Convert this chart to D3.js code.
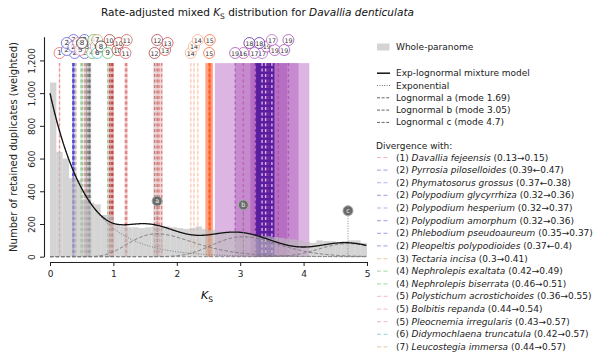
<!DOCTYPE html>
<html>
<head>
<meta charset="utf-8">
<script src="https://cdn.jsdelivr.net/npm/d3@7"></script>
<style>
  body { margin: 0; background: #fff; }
  text { font-family: "DejaVu Sans", sans-serif; }
</style>
</head>
<body>
<svg id="chart" width="602" height="361"></svg>
<script>
// ---- whole-paranome Ks histogram (bin width 0.1, from 0 to 5) ----
const binWidth = 0.1;
const histCounts = [
  1065, 640, 600, 480, 470, 350, 330, 320, 255, 255,
  200, 185, 180, 180, 175, 180, 185, 180, 185, 180,
  175, 170, 175, 185, 170, 165, 155, 150, 150, 155,
  150, 140, 130, 125, 125, 120, 115, 110, 105, 100,
  90, 85, 100, 95, 95, 90, 95, 100, 100, 85
];

// ---- exp-lognormal mixture model ----
const expAmplitude = 1000;
const expRate = 1.75;
const lognormLetters = ["a", "b", "c"];
const lognormModes = [1.69, 3.05, 4.7];
const lognormSigmas = [0.3, 0.17, 0.1];
const lognormPeaks = [140, 122, 80];
const lognormMarkerHeights = [340, 316, 281];

// ---- divergences listed in the legend ----
const speciesNames = [
  "Davallia fejeensis", "Pyrrosia piloselloides", "Phymatosorus grossus",
  "Polypodium glycyrrhiza", "Polypodium hesperium", "Polypodium amorphum",
  "Phlebodium pseudoaureum", "Pleopeltis polypodioides", "Tectaria incisa",
  "Nephrolepis exaltata", "Nephrolepis biserrata", "Polystichum acrostichoides",
  "Bolbitis repanda", "Pleocnemia irregularis", "Didymochlaena truncatula",
  "Leucostegia immersa"
];
const speciesGroups = [1, 2, 2, 2, 2, 2, 2, 2, 3, 4, 4, 5, 5, 5, 6, 7];
const ksLow = [0.13, 0.39, 0.37, 0.32, 0.32, 0.32, 0.35, 0.37, 0.3, 0.42, 0.46, 0.36, 0.44, 0.43, 0.42, 0.44];
const ksHigh = [0.15, 0.47, 0.38, 0.36, 0.37, 0.36, 0.37, 0.4, 0.41, 0.49, 0.51, 0.55, 0.54, 0.57, 0.57, 0.57];
// true when the adjusted estimate is the lower value (arrow points left)
const arrowLeft = [false, true, true, false, false, false, false, true, false, false, false, false, false, false, false, false];
const speciesSd = [0.01, 0.012, 0.01, 0.01, 0.01, 0.01, 0.01, 0.01, 0.012, 0.012, 0.012, 0.012, 0.012, 0.012, 0.01, 0.01];

// ---- further divergences (groups 8-19) ----
const otherGroups = [8, 8, 9, 10, 10, 10, 11, 11, 12, 12, 13, 13, 14, 14, 14, 15, 15,
                     17, 19, 19, 18, 16, 19, 18, 17, 17, 19, 19];
const otherKs = [0.6, 0.63, 0.91, 0.94, 0.97, 0.99, 1.19, 1.21, 1.65, 1.69, 1.72, 1.76,
                 2.22, 2.27, 2.33, 2.51, 2.52,
                 3.345, 3.42, 3.45, 3.395, 3.05, 2.92, 3.24, 3.4, 3.5, 3.6, 3.76];
const otherSd = [0.03, 0.02, 0.01, 0.02, 0.03, 0.02, 0.015, 0.015, 0.02, 0.02, 0.02, 0.02,
                 0.015, 0.015, 0.015, 0.06, 0.02,
                 0.745, 0.5, 0.29, 0.145, 0.0, 0.0, 0.0, 0.0, 0.0, 0.0, 0.0];

const groupColors = {
  1: "#e8575a", 2: "#4f4fd9", 3: "#d9a050", 4: "#5cb85c", 5: "#e87da3",
  6: "#3fb5c5", 7: "#c8955a", 8: "#222222", 9: "#55bb55", 10: "#b22222",
  11: "#d05050", 12: "#a83030", 13: "#c84040", 14: "#f4a582", 15: "#ff5a1f",
  16: "#c0409a", 17: "#b45ac0", 18: "#4b0f9a", 19: "#9a3aaa"
};
const bandOpacity = { 17: 0.45, 18: 0.85, 19: 0.35, 15: 0.55, 14: 0.15 };
const lineOpacity = { 14: 0.45, 10: 0.7, 15: 0.8 };
const lineColorOverride = { 17: "#e3c4ec" };

const yTicks = [0, 200, 400, 600, 800, 1000, 1200];
const xTicks = [0, 1, 2, 3, 4, 5];

// ---- layout ----
const svg = d3.select("#chart");
const x = d3.scaleLinear().domain([0, 5]).range([50, 367]);
const y = d3.scaleLinear().domain([0, 1345]).range([256.7, 36.7]);
const bandTop = y(0) - 0.88 * (y(0) - y.range()[1]);

// combined divergence list; each line sits at the adjusted estimate
const divergences = [];
speciesGroups.forEach((g, i) => divergences.push({
  g, ks: arrowLeft[i] ? ksLow[i] : ksHigh[i], sd: speciesSd[i]
}));
otherGroups.forEach((g, i) => divergences.push({ g, ks: otherKs[i], sd: otherSd[i] }));

// bands
const gBands = svg.append("g");
divergences.filter(d => d.sd > 0).forEach(d => {
  gBands.append("rect")
    .attr("x", x(d.ks - d.sd)).attr("width", x(d.ks + d.sd) - x(d.ks - d.sd))
    .attr("y", bandTop).attr("height", y(0) - bandTop)
    .attr("fill", groupColors[d.g])
    .attr("fill-opacity", bandOpacity[d.g] ?? 0.2);
});
// dashed divergence lines
divergences.forEach(d => {
  gBands.append("line")
    .attr("x1", x(d.ks)).attr("x2", x(d.ks))
    .attr("y1", bandTop).attr("y2", y(0))
    .attr("stroke", lineColorOverride[d.g] ?? groupColors[d.g])
    .attr("stroke-opacity", lineColorOverride[d.g] ? 0.9 : (lineOpacity[d.g] ?? 0.55))
    .attr("stroke-width", 1.4)
    .attr("stroke-dasharray", "3,2.5");
});

// histogram
svg.append("g").selectAll("rect").data(histCounts).join("rect")
  .attr("x", (d, i) => x(i * binWidth))
  .attr("width", x(binWidth) - x(0))
  .attr("y", d => y(d))
  .attr("height", d => y(0) - y(d))
  .attr("fill", "#bdbdbd").attr("fill-opacity", 0.65);

// mixture curves
function lognorm(v, k) {
  const mu = Math.log(lognormModes[k]) + lognormSigmas[k] ** 2;
  const pdf = t => Math.exp(-((Math.log(t) - mu) ** 2) / (2 * lognormSigmas[k] ** 2)) / t;
  return lognormPeaks[k] * pdf(v) / pdf(lognormModes[k]);
}
const expo = v => expAmplitude * Math.exp(-expRate * v);
const grid = d3.range(0.001, 5.0005, 0.01);
const line = d3.line().x(d => x(d[0])).y(d => y(d[1]));
const gCurves = svg.append("g").attr("fill", "none");
gCurves.append("path").datum(grid.map(v => [v, expo(v)])).attr("d", line)
  .attr("stroke", "#777").attr("stroke-width", 1).attr("stroke-dasharray", "1,1.6");
[0, 1, 2].forEach(k => {
  gCurves.append("path").datum(grid.map(v => [v, lognorm(v, k)])).attr("d", line)
    .attr("stroke", "#777").attr("stroke-width", 1).attr("stroke-dasharray", "3.5,2");
});
gCurves.append("path")
  .datum(grid.map(v => [v, expo(v) + lognorm(v, 0) + lognorm(v, 1) + lognorm(v, 2)]))
  .attr("d", line).attr("stroke", "#111").attr("stroke-width", 1.3);

// lognormal mode markers
lognormModes.forEach((m, k) => {
  svg.append("line")
    .attr("x1", x(m)).attr("x2", x(m))
    .attr("y1", y(lognormMarkerHeights[k])).attr("y2", y(0))
    .attr("stroke", "#888").attr("stroke-width", 1).attr("stroke-dasharray", "1,1.5");
  svg.append("circle").attr("cx", x(m)).attr("cy", y(lognormMarkerHeights[k])).attr("r", 5)
    .attr("fill", "#6a6a6a").attr("stroke", "#aaa").attr("stroke-width", 1);
  svg.append("text").attr("x", x(m)).attr("y", y(lognormMarkerHeights[k]))
    .attr("text-anchor", "middle").attr("dominant-baseline", "central")
    .attr("font-size", 6.5).attr("fill", "#eee").text(lognormLetters[k]);
});

// number badges above the lines (greedy placement, clusters allowed to overlap a little)
const candidates = [[0, 53], [0, 46.5], [0, 40], [-6, 50], [6, 50], [-6, 43], [6, 43],
                    [-11, 53], [11, 53], [-11, 46.5], [11, 46.5], [-11, 40], [11, 40]];
const placed = [];
divergences.forEach(d => {
  const x0 = x(d.ks);
  let best = null, bestDist = -1;
  for (const [dx, cy] of candidates) {
    const cx = x0 + dx;
    const md = placed.length ? d3.min(placed, p => Math.hypot(p.cx - cx, p.cy - cy)) : 99;
    if (md >= 7) { best = { cx, cy }; break; }
    if (md > bestDist) { bestDist = md; best = { cx, cy }; }
  }
  placed.push({ ...best, g: d.g });
});
const gBadges = svg.append("g");
placed.forEach(p => {
  gBadges.append("circle").attr("cx", p.cx).attr("cy", p.cy).attr("r", 5.5)
    .attr("fill", "#fff").attr("fill-opacity", 0.8)
    .attr("stroke", groupColors[p.g]).attr("stroke-opacity", 0.7).attr("stroke-width", 1);
  gBadges.append("text").attr("x", p.cx).attr("y", p.cy)
    .attr("text-anchor", "middle").attr("dominant-baseline", "central")
    .attr("font-size", p.g >= 10 ? 6.3 : 7).attr("fill", "#333").text(p.g);
});

// axes
const xAxis = svg.append("g").attr("transform", "translate(0,262)")
  .call(d3.axisBottom(x).tickValues(xTicks).tickFormat(d3.format("d")).tickSize(4).tickSizeOuter(0));
xAxis.select(".domain").attr("stroke", "#222").attr("stroke-width", 1.1);
xAxis.selectAll("text").attr("font-size", 9).attr("fill", "#222").attr("dy", "0.9em");
const yAxis = svg.append("g").attr("transform", "translate(44,0)")
  .call(d3.axisLeft(y).tickValues(yTicks).tickSize(4).tickSizeOuter(0));
yAxis.select(".domain").attr("stroke", "#222").attr("stroke-width", 1.1);
yAxis.selectAll("text").attr("font-size", 9).attr("fill", "#222")
  .attr("transform", "rotate(-90)").attr("x", 0).attr("y", -12).attr("dy", null)
  .attr("text-anchor", "middle").attr("dominant-baseline", "central");
svg.selectAll(".tick line").attr("stroke", "#222");

// axis labels
const xl = svg.append("text").attr("x", 207).attr("y", 299).attr("text-anchor", "middle").attr("font-size", 11);
xl.append("tspan").attr("font-style", "italic").text("K");
xl.append("tspan").attr("font-size", 7.5).attr("dy", 2.5).text("S");
svg.append("text").attr("transform", "translate(13,147) rotate(-90)")
  .attr("text-anchor", "middle").attr("dominant-baseline", "central")
  .attr("font-size", 10).attr("fill", "#222").text("Number of retained duplicates (weighted)");

// title
const title = svg.append("text").attr("x", 257.5).attr("y", 16).attr("text-anchor", "middle").attr("font-size", 10.5).attr("fill", "#111");
title.append("tspan").text("Rate-adjusted mixed ");
title.append("tspan").attr("font-style", "italic").text("K");
title.append("tspan").attr("font-size", 7.5).attr("dy", 2.5).text("S");
title.append("tspan").attr("dy", -2.5).text(" distribution for ");
title.append("tspan").attr("font-style", "italic").text("Davallia denticulata");

// legend
const lg = svg.append("g").attr("font-size", 9).attr("fill", "#222");
const lx0 = 377, lx1 = 390, ltx = 396;
lg.append("rect").attr("x", lx0).attr("y", 43.5).attr("width", 12.5).attr("height", 7).attr("fill", "#d4d4d4");
lg.append("text").attr("x", ltx).attr("y", 47).attr("dominant-baseline", "central").text("Whole-paranome");
const modelRows = [
  ["Exp-lognormal mixture model", "#111", null, 1.5],
  ["Exponential", "#777", "1,1.4", 1],
  ["Lognormal a (mode " + lognormModes[0] + ")", "#666", "3,1.6", 1],
  ["Lognormal b (mode " + lognormModes[1] + ")", "#666", "3,1.6", 1],
  ["Lognormal c (mode " + lognormModes[2] + ")", "#666", "3,1.6", 1]
];
modelRows.forEach((r, i) => {
  const cy = 73.2 + i * 12.3;
  lg.append("line").attr("x1", lx0).attr("x2", lx1).attr("y1", cy).attr("y2", cy)
    .attr("stroke", r[1]).attr("stroke-width", r[3]).attr("stroke-dasharray", r[2]);
  lg.append("text").attr("x", ltx).attr("y", cy).attr("dominant-baseline", "central").text(r[0]);
});
lg.append("text").attr("x", 376).attr("y", 146).attr("dominant-baseline", "central").text("Divergence with:");
speciesNames.forEach((name, i) => {
  const cy = 157.5 + i * 12.63;
  lg.append("line").attr("x1", lx0).attr("x2", lx1).attr("y1", cy).attr("y2", cy)
    .attr("stroke", groupColors[speciesGroups[i]]).attr("stroke-opacity", 0.45)
    .attr("stroke-width", 1.2).attr("stroke-dasharray", "4,2.5");
  const t = lg.append("text").attr("x", ltx).attr("y", cy).attr("dominant-baseline", "central");
  t.append("tspan").text("(" + speciesGroups[i] + ") ");
  t.append("tspan").attr("font-style", "italic").text(name);
  t.append("tspan").text(" (" + ksLow[i] + (arrowLeft[i] ? "\u2190" : "\u2192") + ksHigh[i] + ")");
});
</script>
</body>
</html>
